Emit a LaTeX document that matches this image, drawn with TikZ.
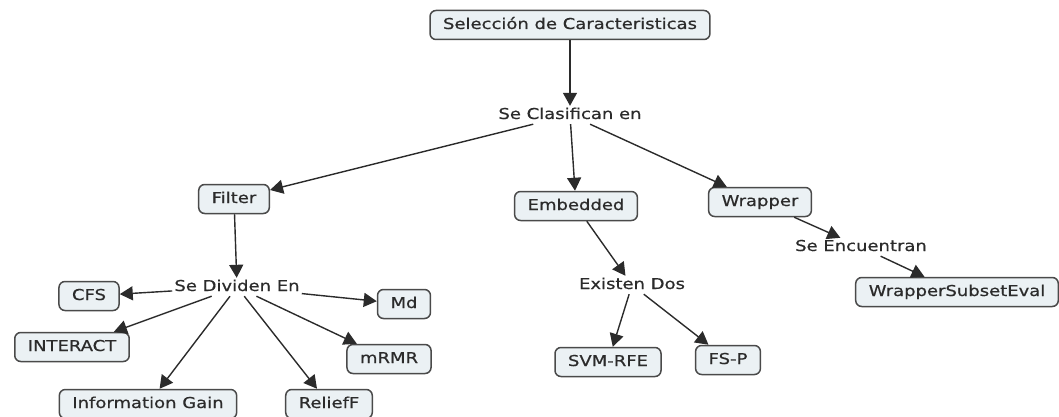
\documentclass[tikz,border=0pt]{standalone}
\usepackage{fontspec}
\setmainfont[FakeStretch=1.2,FakeBold=0.6]{DejaVu Sans}
\usetikzlibrary{arrows.meta}
\definecolor{ink}{HTML}{2B2B2B}
\definecolor{frame}{HTML}{4A4A4A}
\definecolor{paleblue}{HTML}{EBF1F4}

\begin{document}
\begin{tikzpicture}[x=1pt,y=-1pt,
  font=\fontsize{15pt}{17pt}\selectfont,
  concept/.style={draw=frame,line width=1.5pt,rounded corners=6pt,fill=paleblue,
                  text=ink,inner xsep=13pt,inner ysep=0pt,minimum height=29pt,
                  text height=11pt,text depth=3pt},
  linkword/.style={text=ink,inner sep=2pt,text height=11pt,text depth=3pt},
  link/.style={draw=ink,line width=1.4pt,-{Triangle[length=13pt,width=14pt]}}]
  \useasboundingbox (0,0) rectangle (1059,417);
  % concepts
  \node[concept] (sel) at (570,25) {Selección de Caracteristicas};
  \node[concept] (filter) at (234,199) {Filter};
  \node[concept] (embedded) at (576,206) {Embedded};
  \node[concept] (wrapper) at (760,202) {Wrapper};
  \node[concept] (cfs) at (89,296) {CFS};
  \node[concept] (md) at (404,304) {Md};
  \node[concept] (interact) at (72,347) {INTERACT};
  \node[concept] (mrmr) at (389,359) {mRMR};
  \node[concept] (infogain) at (148,404) {Information Gain};
  \node[concept] (relieff) at (329,404) {ReliefF};
  \node[concept] (svm) at (608,362) {SVM-RFE};
  \node[concept] (fsp) at (728,360) {FS-P};
  \node[concept] (wse) at (957,292) {WrapperSubsetEval};
  % linking words
  \node[linkword] (clas) at (570,115) {Se Clasifican en};
  \node[linkword] (dividen) at (237,287) {Se Dividen En};
  \node[linkword] (existen) at (632,285) {Existen Dos};
  \node[linkword] (encuentran) at (861,247) {Se Encuentran};
  % connectors
  \draw[link] (sel) -- (clas);
  \foreach \t in {filter,embedded,wrapper}
    \draw[link] (clas) -- (\t);
  \draw[link] (filter) -- (dividen);
  \foreach \t in {cfs,md,interact,mrmr,infogain,relieff}
    \draw[link] (dividen) -- (\t);
  \draw[link] (embedded) -- (existen);
  \foreach \t in {svm,fsp}
    \draw[link] (existen) -- (\t);
  \draw[link] (wrapper) -- (encuentran);
  \draw[link] (encuentran) -- (wse);
\end{tikzpicture}
\end{document}
